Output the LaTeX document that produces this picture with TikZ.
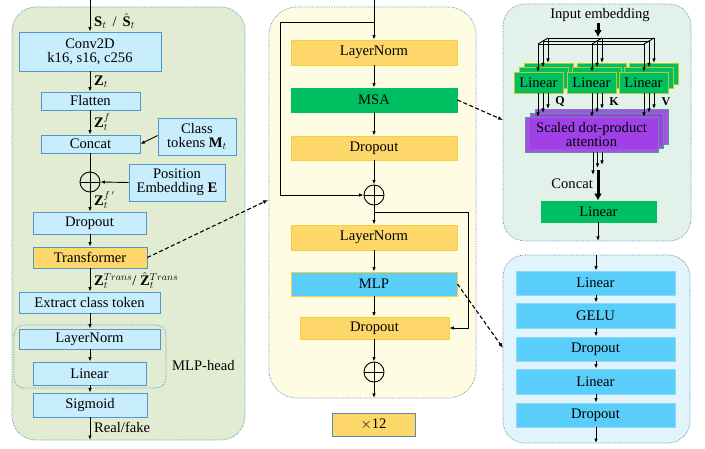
\documentclass[tikz,border=0pt]{standalone}
\usepackage{fontspec}
\setmainfont{Liberation Serif}
\usetikzlibrary{arrows.meta}
\definecolor{leftbg}{RGB}{226,236,210}
\definecolor{midbg}{RGB}{254,253,228}
\definecolor{rtbg}{RGB}{226,242,234}
\definecolor{rbbg}{RGB}{225,243,251}
\definecolor{lbfill}{RGB}{200,237,252}
\definecolor{lbdraw}{RGB}{80,150,200}
\definecolor{orfill}{RGB}{253,215,106}
\definecolor{ordraw}{RGB}{250,205,60}
\definecolor{grfill}{RGB}{0,191,96}
\definecolor{blfill}{RGB}{90,206,250}
\definecolor{bldraw}{RGB}{140,215,245}
\definecolor{pufill}{RGB}{160,64,230}
\definecolor{pudraw}{RGB}{90,150,160}
\definecolor{pandraw}{RGB}{90,140,175}
\definecolor{lindraw}{RGB}{190,200,40}
\tikzset{
  every node/.style={font=\fontsize{14.6}{16}\selectfont},
  bx/.style={inner sep=0pt, line width=0.8pt, align=center},
  lbbox/.style={bx, draw=lbdraw, fill=lbfill},
  orbox/.style={bx, draw=ordraw, fill=orfill},
  grbox/.style={bx, draw=grfill, fill=grfill},
  blbox/.style={bx, draw=bldraw, fill=blfill},
  linbox/.style={bx, draw=lindraw, fill=grfill},
  attbox/.style={bx, draw=pudraw, fill=pufill, fill opacity=0.9, text opacity=1},
  panel/.style={draw=pandraw, densely dotted, line width=0.7pt, rounded corners=24pt},
  conn/.style={line width=0.9pt, -{Latex[length=4.5pt,width=3.5pt]}},
  thick conn/.style={line width=3pt, -{Latex[length=7pt,width=8pt]}},
  dconn/.style={line width=1.1pt, dash pattern=on 4pt off 2.5pt, -{Latex[length=5pt,width=4pt]}},
  oplus/.style={circle, draw, line width=0.9pt, minimum size=20pt, inner sep=0pt},
  lbl/.style={anchor=west, inner sep=0pt},
}
\begin{document}
\begin{tikzpicture}[x=1pt,y=-1pt]
\useasboundingbox (0,0) rectangle (705,449);
% ---------- panels
\fill[white] (0,0) rectangle (705,449);
\draw[panel, fill=leftbg] (12,7) rectangle (245,440);
\draw[panel, fill=midbg, rounded corners=28pt] (269,7) rectangle (476,398);
\draw[panel, fill=rtbg, rounded corners=22pt] (503,4) rectangle (691,241);
\draw[panel, fill=rbbg, rounded corners=22pt] (503,255) rectangle (690,443);
\draw[panel, rounded corners=10pt] (14,325) rectangle (166,388);

% ---------- left column
\coordinate (lin0) at (90,0);
\node[lbbox, minimum width=142pt, minimum height=39pt] (conv) at (90,51.5) {Conv2D\\[-2pt]k16, s16, c256};
\node[lbbox, minimum width=99pt, minimum height=18pt] (flat) at (90.5,101) {Flatten};
\node[lbbox, minimum width=99pt, minimum height=18pt] (cat) at (90.5,144) {Concat};
\node[lbbox, minimum width=78pt, minimum height=37pt] (cls) at (197,136.5) {Class\\[-2pt]tokens $\mathbf{M}_t$};
\node[oplus] (op0) at (90,182) {};
\draw[line width=0.9pt] (op0.north) -- (op0.south) (op0.west) -- (op0.east);
\node[lbbox, minimum width=96pt, minimum height=37pt] (pos) at (177,182.5) {Position\\[-2pt]Embedding $\mathbf{E}$};
\node[lbbox, minimum width=113pt, minimum height=22pt] (drop) at (89.5,223) {Dropout};
\node[bx, draw=lbdraw, fill=orfill, minimum width=114pt, minimum height=21pt] (trans) at (90,257.5) {Transformer};
\node[lbbox, minimum width=141pt, minimum height=21pt] (ext) at (89.5,302.5) {Extract class token};
\node[lbbox, minimum width=141pt, minimum height=20pt] (lnl) at (89.5,339) {LayerNorm};
\node[lbbox, minimum width=113pt, minimum height=23pt] (linl) at (89.5,373.5) {Linear};
\node[lbbox, minimum width=114pt, minimum height=24pt] (sig) at (90,405) {Sigmoid};
\coordinate (lout) at (90,440);
\node[lbl] (mlph) at (172,366) {MLP-head};

\draw[conn] (lin0) -- (conv.north);
\draw[conn] (conv.south -| 90,0) -- (flat.north -| 90,0);
\draw[conn] (flat.south -| 90,0) -- (cat.north -| 90,0);
\draw[conn] (cls.west) ++(0,-1) -- (cat.east);
\draw[line width=0.9pt] (cat.south -| 90,0) -- (op0.north);
\draw[conn] (pos.west) -- (op0.east);
\draw[conn] (op0.south) -- (drop.north -| 90,0);
\draw[conn] (drop.south -| 90,0) -- (trans.north -| 90,0);
\draw[conn] (trans.south -| 90,0) -- (ext.north -| 90,0);
\draw[conn] (ext.south -| 90,0) -- (lnl.north -| 90,0);
\draw[conn] (lnl.south -| 90,0) -- (linl.north -| 90,0);
\draw[conn] (linl.south -| 90,0) -- (sig.north -| 90,0);
\draw[conn] (sig.south -| 90,0) -- (lout);

\node[lbl] (lS) at (94,21) {$\mathbf{S}_t$ \,/\, $\hat{\mathbf{S}}_t$};
\node[lbl] (lZ) at (94,82) {$\mathbf{Z}_t$};
\node[lbl] (lZf) at (94,122) {$\mathbf{Z}_t^{f}$};
\node[lbl] (lZff) at (94,200) {$\mathbf{Z}_t^{f\,'}$};
\node[lbl] (lZT) at (94,280.5) {$\mathbf{Z}_t^{Trans}$/ $\hat{\mathbf{Z}}_t^{Trans}$};
\node[lbl] (lRF) at (94,427) {Real/fake};

% ---------- middle column
\coordinate (min0) at (374,0);
\coordinate (res1a) at (374,22);
\coordinate (res1b) at (280,22);
\coordinate (res1c) at (280,195);
\node[orbox, minimum width=166pt, minimum height=25pt] (ln1) at (374,52.5) {LayerNorm};
\node[grbox, minimum width=166pt, minimum height=24pt] (msa) at (374,100) {MSA};
\node[orbox, minimum width=166pt, minimum height=24pt] (d1) at (374,148) {Dropout};
\node[oplus] (op1) at (374,195) {};
\draw[line width=0.9pt] (op1.north) -- (op1.south) (op1.west) -- (op1.east);
\node[orbox, minimum width=166pt, minimum height=25pt] (ln2) at (374,237.5) {LayerNorm};
\node[bx, draw=ordraw, fill=blfill, minimum width=166pt, minimum height=24pt] (mlp) at (374,284) {MLP};
\node[orbox, minimum width=149pt, minimum height=22pt] (d2) at (374.5,328) {Dropout};
\node[oplus] (op2) at (374,372) {};
\draw[line width=0.9pt] (op2.north) -- (op2.south) (op2.west) -- (op2.east);
\coordinate (mout) at (374,398);
\coordinate (res2a) at (374,212);
\coordinate (res2b) at (468,212);
\coordinate (res2c) at (468,328);
\node[bx, draw=pandraw, fill=orfill, minimum width=83pt, minimum height=23pt] (x12) at (373.5,424.5) {$\times$12};

\draw[conn] (min0) -- (ln1.north);
\draw[conn] (res1a) -- (res1b) -- (res1c) -- (op1.west);
\draw[conn] (ln1.south) -- (msa.north);
\draw[conn] (msa.south) -- (d1.north);
\draw[conn] (d1.south) -- (op1.north);
\draw[conn] (op1.south) -- (ln2.north);
\draw[conn] (res2a) -- (res2b) -- (res2c) -- (d2.east);
\draw[conn] (ln2.south) -- (mlp.north);
\draw[conn] (mlp.south) -- (d2.north -| 374,0);
\draw[conn] (d2.south -| 374,0) -- (op2.north);
\draw[conn] (op2.south) -- (mout);

% ---------- right top (MSA)
\node[inner sep=0pt] (inemb) at (600,15) {Input embedding};
\coordinate (te0) at (598,23);
\coordinate (te1) at (598,37);
\draw[thick conn] (te0) -- (te1);
% linear stacks
\foreach \cx/\nm in {538.5/la,591.5/lb,643.5/lc}{
  \node[linbox, minimum width=49pt, minimum height=21pt] (\nm3) at (\cx+10,82.5-9) {};
  \node[linbox, minimum width=49pt, minimum height=21pt] (\nm2) at (\cx+5,82.5-4.5) {};
  \node[linbox, minimum width=49pt, minimum height=21pt] (\nm1) at (\cx,82.5) {Linear};
}
% attention stack
\node[attbox, minimum width=133pt, minimum height=35pt] (at3) at (601.5,126.5) {};
\node[attbox, minimum width=133pt, minimum height=35pt] (at2) at (596.5,130.5) {};
\node[attbox, minimum width=133pt, minimum height=35pt] (at1) at (591.5,134.5) {Scaled dot-product\\[-2pt]attention};
% bus
\draw[line width=0.9pt] (548,38) -- (654,38) (543,41) -- (649,41) (538,44) -- (644,44);
\foreach \bx in {548,602,654}{
  \draw[line width=0.9pt] (\bx,38) -- (\bx-10,44);
}
\foreach \bx/\nm in {538/la,592/lb,644/lc}{
  \draw[conn] (\bx,44) -- (\bx,72);
  \draw[conn] (\bx+5,41) -- (\bx+5,67.5);
  \draw[conn] (\bx+10,38) -- (\bx+10,63);
  \draw[conn] (\bx,93) -- (\bx,117);
  \draw[conn] (\bx+5,93) -- (\bx+5,113);
  \draw[conn] (\bx+10,93) -- (\bx+10,109);
}
\node[inner sep=0pt, font=\fontsize{12}{14}\selectfont\bfseries] (Q) at (560,102) {Q};
\node[inner sep=0pt, font=\fontsize{12}{14}\selectfont\bfseries] (K) at (614,102) {K};
\node[inner sep=0pt, font=\fontsize{12}{14}\selectfont\bfseries] (V) at (666,102) {V};
\draw[conn] (593,152) -- (593,175);
\draw[conn] (597.5,152) -- (597.5,168);
\draw[conn] (602,152) -- (602,165);
\node[grbox, minimum width=115pt, minimum height=21pt] (lout1) at (598.5,211.5) {Linear};
\coordinate (cc0) at (598,170);
\draw[line width=3pt, -{Latex[length=7pt,width=8pt]}] (cc0) -- (lout1.north -| cc0);
\node[anchor=east, inner sep=0pt] (concat) at (593,184) {Concat};
\coordinate (rtout) at (598,241);
\draw[conn] (lout1.south -| rtout) -- (rtout);

% ---------- right bottom (MLP)
\coordinate (rbin) at (596,255);
\node[blbox, minimum width=159pt, minimum height=24pt] (m1) at (595.5,283) {Linear};
\node[blbox, minimum width=159pt, minimum height=25pt] (m2) at (595.5,315.5) {GELU};
\node[blbox, minimum width=159pt, minimum height=24pt] (m3) at (595.5,349) {Dropout};
\node[blbox, minimum width=159pt, minimum height=25pt] (m4) at (595.5,381.5) {Linear};
\node[blbox, minimum width=159pt, minimum height=24pt] (m5) at (595.5,415) {Dropout};
\coordinate (rbout) at (596,443);
\draw[conn] (rbin) -- (m1.north -| rbin);
\draw[conn] (m1.south -| rbin) -- (m2.north -| rbin);
\draw[conn] (m2.south -| rbin) -- (m3.north -| rbin);
\draw[conn] (m3.south -| rbin) -- (m4.north -| rbin);
\draw[conn] (m4.south -| rbin) -- (m5.north -| rbin);
\draw[conn] (m5.south -| rbin) -- (rbout);

% ---------- dashed links
\coordinate (dl1) at (268,200);
\coordinate (dl2) at (503,120);
\coordinate (dl3) at (503,348);
\draw[dconn] (trans.east) -- (dl1);
\draw[dconn] (msa.east) -- (dl2);
\draw[dconn] (mlp.east) -- (dl3);
\end{tikzpicture}
\end{document}
